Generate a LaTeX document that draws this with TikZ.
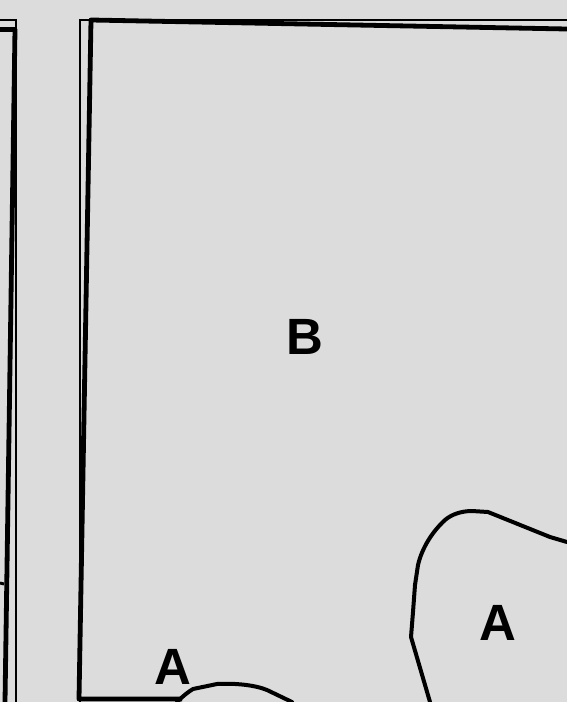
\documentclass[tikz,border=0pt]{standalone}
\usepackage{fontspec}
\setmainfont{Liberation Sans}
\definecolor{bg}{RGB}{220,220,220}
\tikzset{
  thinline/.style={line width=2.2pt, draw=black},
  thickline/.style={line width=4.8pt, draw=black, line join=round},
  blobline/.style={line width=4pt, draw=black, line join=round, line cap=round},
  lbl/.style={font=\bfseries\fontsize{51}{51}\selectfont, text=black, inner sep=0pt}
}
\begin{document}
\begin{tikzpicture}[x=1pt,y=-1pt]
\fill[bg] (0,0) rectangle (567,702);
\useasboundingbox (0,0) rectangle (567,702);
% left panel
\draw[thinline] (0,20) -- (16,20) -- (16,702);
\draw[thickline] (0,29.5) -- (15,29.5) -- (5,702);
\draw[line width=3pt] (0,583) -- (4,584);
% right panel
\draw[thinline] (80,702) -- (80,20) -- (567,20);
\draw[thickline] (567,29) -- (91,20) -- (79,699) -- (182,699);
% blobs
\draw[blobline] (567,542) -- (550,537) -- (488,512) -- (472,511) .. controls (462,511) and (452,514) .. (445,520)
  .. controls (432,532) and (422,548) .. (418,565) -- (415,585) -- (413,612) -- (411,637) -- (430,702);
\draw[blobline] (177,702) .. controls (183,696) and (188,692) .. (193,689) -- (217,684)
  .. controls (235,683) and (255,685) .. (267,690) -- (292,702);
% labels
\node[lbl] (B) at (305,337) {B};
\node[lbl] (A1) at (173,667) {A};
\node[lbl] (A2) at (498,623) {A};
\end{tikzpicture}
\end{document}
